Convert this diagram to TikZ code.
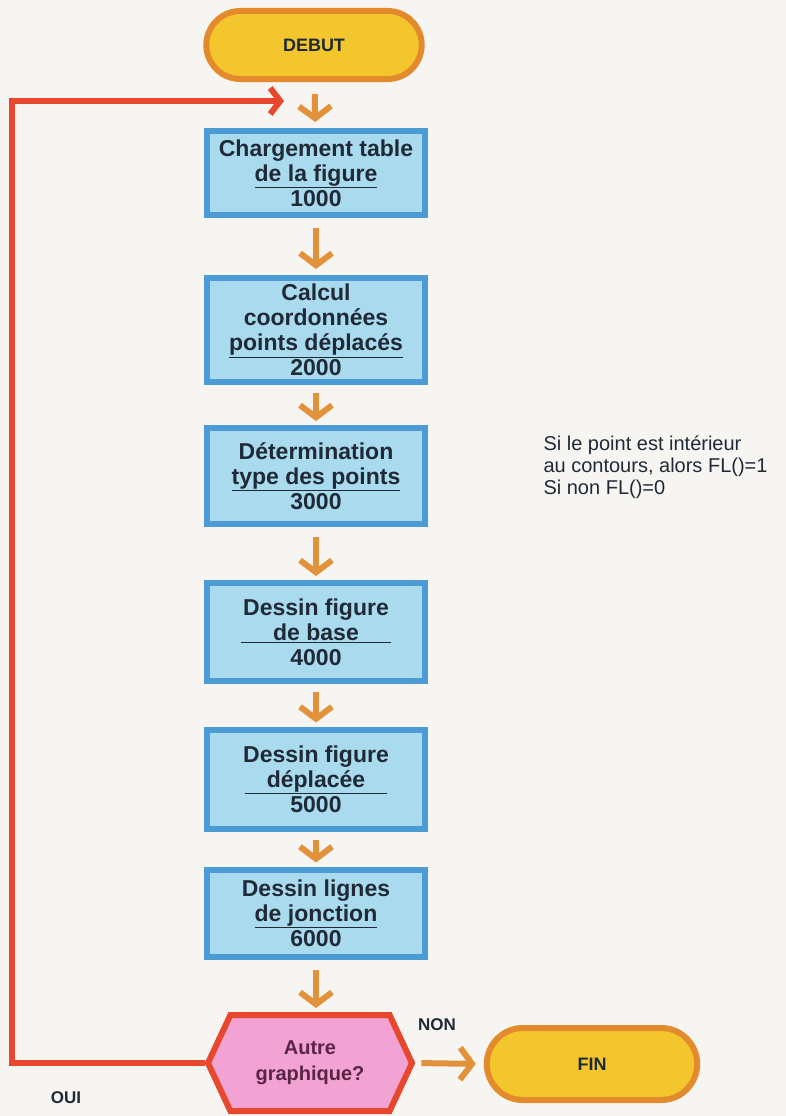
\documentclass[tikz,border=0pt]{standalone}
\usepackage{fontspec}
\setmainfont{Liberation Sans}
\usetikzlibrary{arrows.meta,shapes.misc,shapes.symbols}

\definecolor{paper}{HTML}{F7F5F2}
\definecolor{pillfill}{HTML}{F2C62C}
\definecolor{pillline}{HTML}{E38B2C}
\definecolor{boxfill}{HTML}{A9DAEE}
\definecolor{boxline}{HTML}{4C9BD5}
\definecolor{flowarrow}{HTML}{E2923A}
\definecolor{loopred}{HTML}{E6472D}
\definecolor{hexfill}{HTML}{F2A3D4}
\definecolor{ink}{HTML}{1F2A36}
\definecolor{hexink}{HTML}{5A2444}

% underlined line of fixed width inside a box
\newcommand\ruled[2]{\underline{\makebox[#1]{#2}}}

\tikzset{
  pill/.style={rounded rectangle, draw=pillline, line width=6pt, fill=pillfill,
    text=ink, font=\bfseries\fontsize{18}{22}\selectfont},
  stepbox/.style={rectangle, draw=boxline, line width=6pt, fill=boxfill,
    minimum width=218pt, align=center, text=ink, inner sep=2pt,
    font=\bfseries\fontsize{23}{25}\selectfont},
  hexa/.style={signal, signal to=west and east, signal pointer angle=130,
    draw=loopred, line width=6pt, fill=hexfill, minimum width=204pt,
    minimum height=96pt, align=center, text=hexink, inner sep=2pt,
    font=\bfseries\fontsize{20}{26}\selectfont},
  flow/.style={draw=flowarrow, line width=6pt,
    -{Straight Barb[length=12pt,width=32pt,line width=6pt]}},
  loopline/.style={draw=loopred, line width=6pt,
    -{Straight Barb[length=10pt,width=26pt,line width=6pt]}},
  tag/.style={font=\bfseries\fontsize{17}{20}\selectfont, text=ink},
}

\begin{document}
\begin{tikzpicture}[x=1pt,y=-1pt]
  \fill[paper] (0,0) rectangle (786,1116);
  \useasboundingbox (0,0) rectangle (786,1116);

  \node[pill, minimum width=222pt, minimum height=68pt] (debut) at (314,45) {DEBUT};

  \node[stepbox, minimum height=84pt] (s1) at (316,173)
    {Chargement table\\\underline{de la figure}\\1000};
  \node[stepbox, minimum height=104pt] (s2) at (316,330)
    {Calcul\\coordonnées\\\underline{points déplacés}\\2000};
  \node[stepbox, minimum height=96pt] (s3) at (316,476)
    {Détermination\\\underline{type des points}\\3000};
  \node[stepbox, minimum height=98pt] (s4) at (316,632)
    {Dessin figure\\\ruled{150pt}{de base}\\4000};
  \node[stepbox, minimum height=99pt] (s5) at (316,779)
    {Dessin figure\\\ruled{142pt}{déplacée}\\5000};
  \node[stepbox, minimum height=87pt] (s6) at (316,913)
    {Dessin lignes\\\underline{de jonction}\\6000};

  \node[hexa] (q) at (310,1063) {Autre\\graphique?};
  \node[pill, minimum width=217pt, minimum height=72pt] (fin) at (592,1064) {FIN};

  \node[anchor=west, align=left, text=ink, font=\fontsize{20}{22}\selectfont] (note) at (540,467)
    {Si le point est intérieur\\au contours, alors FL()=1\\Si non FL()=0};

  \node[tag] (non) at (437,1025) {NON};
  \node[tag] (oui) at (66,1098) {OUI};

  % main flow
  \draw[flow, shorten <=12pt, shorten >=6pt] (debut) -- (s1);
  \draw[flow, shorten <=10pt, shorten >=6pt] (s1) -- (s2);
  \draw[flow, shorten <=8pt, shorten >=4pt] (s2) -- (s3);
  \draw[flow, shorten <=10pt, shorten >=4pt] (s3) -- (s4);
  \draw[flow, shorten <=8pt, shorten >=4pt] (s4) -- (s5);
  \draw[flow, shorten <=8pt, shorten >=4pt] (s5) -- (s6);
  \draw[flow, shorten <=10pt, shorten >=4pt] (s6.south) -- (s6.south |- q.north);
  \draw[flow, shorten <=6pt, shorten >=8pt] (q.east) -- (fin.west);

  % return loop
  \coordinate (corner) at (12,1063);
  \coordinate (loopend) at (284,101);
  \draw[loopline, line join=miter] (q.west) -- (corner) |- (loopend);
\end{tikzpicture}
\end{document}
